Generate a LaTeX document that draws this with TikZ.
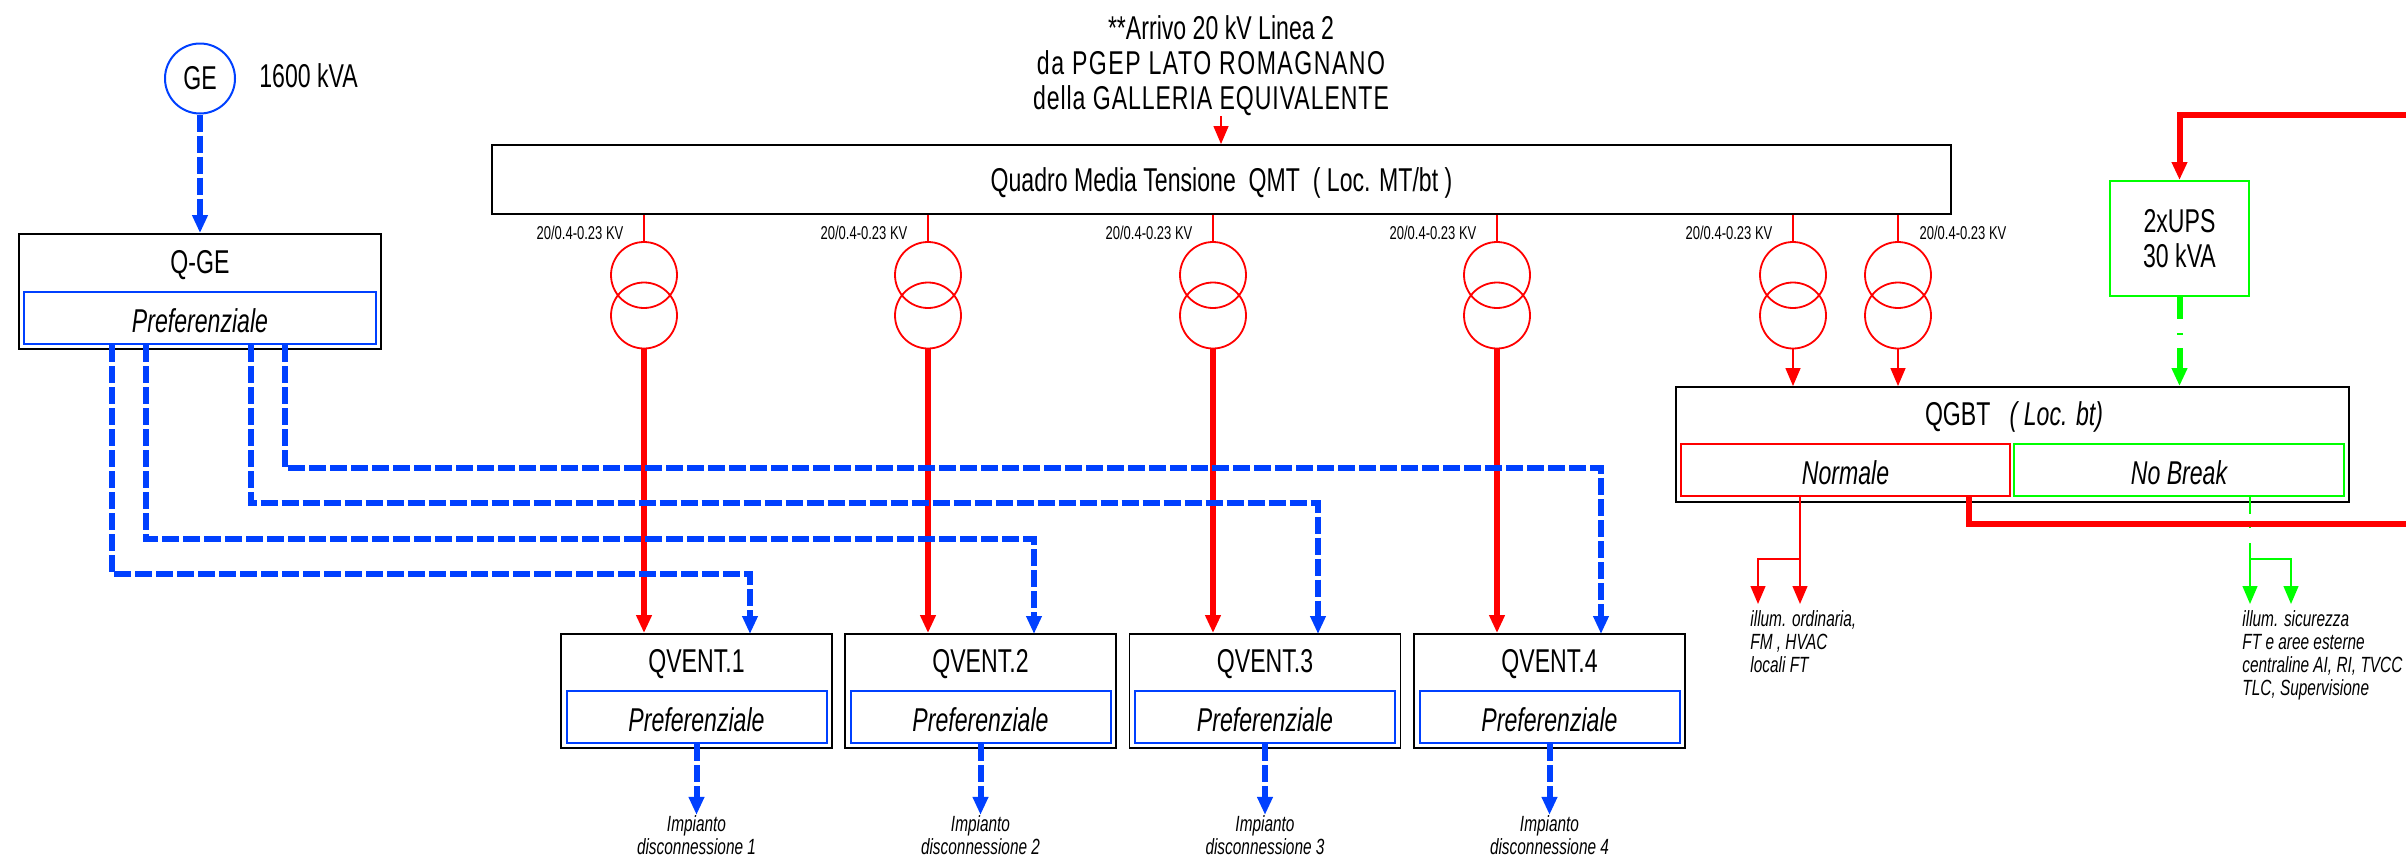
\documentclass[tikz,border=0pt]{standalone}
\usepackage{fontspec}
\setmainfont[FakeStretch=0.7]{Liberation Sans}
\usetikzlibrary{positioning,arrows.meta}
\definecolor{prefblue}{RGB}{0,64,255}
\definecolor{upsgreen}{RGB}{0,255,0}
\tikzset{
bigtext/.style={
  font=\fontsize{16.5}{17.5}\selectfont,
  inner sep=0pt,
  align=center
  },
smalltext/.style={
  font=\fontsize{11}{11.6}\selectfont\itshape,
  inner sep=0pt,
  align=left
  },
kvtext/.style={
  font=\fontsize{9.3}{10}\selectfont,
  inner sep=0pt
  },
panel/.style={
  draw=black,
  line width=0.9pt,
  inner sep=0pt
  },
ventbox/.style={
  panel,
  minimum width=135.5pt,
  minimum height=57pt
  },
sect/.style={
  draw,
  line width=1pt,
  inner sep=0pt,
  minimum height=26pt,
  text height=14.8pt,
  text depth=0pt,
  font=\fontsize{16.5}{17.5}\selectfont\itshape
  },
prefbox/.style={
  sect,
  draw=prefblue,
  minimum width=130pt
  },
xfmr/.style={
  circle,
  draw=red,
  line width=0.9pt,
  minimum size=33pt,
  inner sep=0pt
  },
redthin/.style={
  draw=red,
  line width=1pt
  },
redthick/.style={
  draw=red,
  line width=3pt
  },
bluebus/.style={
  draw=prefblue,
  line width=3pt,
  dash pattern=on 8.5pt off 2pt
  },
greenthin/.style={
  draw=upsgreen,
  line width=1pt
  },
greenthick/.style={
  draw=upsgreen,
  line width=3pt
  }
}

\begin{document}
\begin{tikzpicture}[x=0.5pt, y=-0.5pt,
  >={Triangle[length=9pt,width=7.4pt]}]
\useasboundingbox (0,0) rectangle (2406,857);

\node[circle, draw=prefblue, line width=1pt, minimum size=35pt, inner sep=0pt,
  font=\fontsize{16.5}{17.5}\selectfont]
  (ge) at (200,78.5) {GE};
\node[bigtext, right=11.5pt of ge, yshift=1.2pt] (gekva) {1600 kVA};

\node[panel, minimum width=181pt, minimum height=57.5pt] (qge) at (200,291.5) {};
\node[bigtext] (qgename) at (200,265) {Q-GE};
\node[prefbox, minimum width=176pt] (qgepref) at (200,318) {Preferenziale};

\node[bigtext] (arrivo) at (1221,66)
  {**Arrivo 20 kV Linea 2\\
   \addfontfeature{LetterSpace=4.5}da PGEP LATO ROMAGNANO\kern10pt\\
   \addfontfeature{LetterSpace=2.8}della GALLERIA EQUIVALENTE\kern10pt};
\node[panel, minimum width=729.5pt, minimum height=34.5pt, bigtext, inner sep=0pt,
  text height=11.8pt, text depth=0pt]
  (qmt) at (1221.5,179.5) {Quadro Media Tensione\ \ QMT\ \ ( Loc. MT/bt )};

\node[xfmr] (t1a) at (644,275) {};
\node[xfmr] (t1b) at (644,315.5) {};
\node[xfmr] (t2a) at (928,275) {};
\node[xfmr] (t2b) at (928,315.5) {};
\node[xfmr] (t3a) at (1213,275) {};
\node[xfmr] (t3b) at (1213,315.5) {};
\node[xfmr] (t4a) at (1497,275) {};
\node[xfmr] (t4b) at (1497,315.5) {};
\node[xfmr] (t5a) at (1793,275) {};
\node[xfmr] (t5b) at (1793,315.5) {};
\node[xfmr] (t6a) at (1898,275) {};
\node[xfmr] (t6b) at (1898,315.5) {};

\node[kvtext] (kv1) at (580,233) {20/0.4-0.23 KV};
\node[kvtext] (kv2) at (864,233) {20/0.4-0.23 KV};
\node[kvtext] (kv3) at (1149,233) {20/0.4-0.23 KV};
\node[kvtext] (kv4) at (1433,233) {20/0.4-0.23 KV};
\node[kvtext] (kv5) at (1729,233) {20/0.4-0.23 KV};
\node[kvtext] (kv6) at (1963,233) {20/0.4-0.23 KV};

\node[ventbox] (qvent1) at (696.5,691) {};
\node[ventbox] (qvent2) at (980.5,691) {};
\node[ventbox] (qvent3) at (1265,691) {};
\node[ventbox] (qvent4) at (1549.5,691) {};
\node[bigtext] (qvent1name) at (696.5,664) {QVENT.1};
\node[bigtext] (qvent2name) at (980.5,664) {QVENT.2};
\node[bigtext] (qvent3name) at (1265,664) {QVENT.3};
\node[bigtext] (qvent4name) at (1549.5,664) {QVENT.4};
\node[prefbox] (qvent1pref) at (696.5,717) {Preferenziale};
\node[prefbox] (qvent2pref) at (980.5,717) {Preferenziale};
\node[prefbox] (qvent3pref) at (1265,717) {Preferenziale};
\node[prefbox] (qvent4pref) at (1549.5,717) {Preferenziale};

\node[smalltext, align=center] (disc1) at (696.5,835) {Impianto\\disconnessione 1};
\node[smalltext, align=center] (disc2) at (980.5,835) {Impianto\\disconnessione 2};
\node[smalltext, align=center] (disc3) at (1265,835) {Impianto\\disconnessione 3};
\node[smalltext, align=center] (disc4) at (1549.5,835) {Impianto\\disconnessione 4};

\node[panel, minimum width=336.5pt, minimum height=57.5pt] (qgbt) at (2012.5,444.5) {};
\node[bigtext] (qgbtname) at (2014,417) {QGBT\ \ \ \textit{( Loc. bt)}};
\node[sect, draw=red, minimum width=164.5pt] (normale) at (1845.5,470) {Normale};
\node[sect, draw=upsgreen, minimum width=165pt] (nobreak) at (2179,470) {No Break};
\node[panel, draw=upsgreen, line width=1pt, minimum width=69.5pt, minimum height=57.5pt,
  bigtext] (ups) at (2179.5,238.5) {2xUPS\\30 kVA};

\node[smalltext, anchor=north west] (ordinaria) at (1750,610)
  {illum. ordinaria,\\FM , HVAC\\locali FT};
\node[smalltext, anchor=north west] (sicurezza) at (2242,610)
  {illum. sicurezza\\FT e aree esterne\\centraline AI, RI, TVCC\\TLC, Supervisione};

\coordinate (feed) at (1221,116);
\coordinate (busA) at (112,574);
\coordinate (busB) at (146,539);
\coordinate (busC) at (250.5,503);
\coordinate (busD) at (285,468);
\coordinate (inA) at (750,634);
\coordinate (inB) at (1034,634);
\coordinate (inC) at (1318,634);
\coordinate (inD) at (1601,634);
\coordinate (loadRa) at (1800,604);
\coordinate (loadRb) at (1758,604);
\coordinate (forkR) at (1800,559);
\coordinate (loadGa) at (2250,604);
\coordinate (loadGb) at (2291,604);
\coordinate (forkG) at (2250,559);
\coordinate (upsfeedend) at (2406,115);
\coordinate (upsfeedcorner) at (2179.5,115);
\coordinate (outcorner) at (1969,524);
\coordinate (outend) at (2406,524);

\draw[redthin,->]
  (feed) -- (qmt.north -| feed);
\draw[redthin] (qmt.south -| t1a) -- (t1a.north);
\draw[redthin] (qmt.south -| t2a) -- (t2a.north);
\draw[redthin] (qmt.south -| t3a) -- (t3a.north);
\draw[redthin] (qmt.south -| t4a) -- (t4a.north);
\draw[redthin] (qmt.south -| t5a) -- (t5a.north);
\draw[redthin] (qmt.south -| t6a) -- (t6a.north);

\draw[redthick,->]
  (t1b.south) -- (qvent1.north -| t1b);
\draw[redthick,->]
  (t2b.south) -- (qvent2.north -| t2b);
\draw[redthick,->]
  (t3b.south) -- (qvent3.north -| t3b);
\draw[redthick,->]
  (t4b.south) -- (qvent4.north -| t4b);
\draw[redthin,->]
  (t5b.south) -- (qgbt.north -| t5b);
\draw[redthin,->]
  (t6b.south) -- (qgbt.north -| t6b);

\draw[bluebus,->]
  (ge.south) -- (qge.north);
\draw[bluebus,->]
  (qgepref.south -| busA) -- (busA) -| (inA);
\draw[bluebus,->]
  (qgepref.south -| busB) -- (busB) -| (inB);
\draw[bluebus,->]
  (qgepref.south -| busC) -- (busC) -| (inC);
\draw[bluebus,->]
  (qgepref.south -| busD) -- (busD) -| (inD);

\draw[bluebus,->]
  (qvent1pref.south) -- (disc1.north);
\draw[bluebus,->]
  (qvent2pref.south) -- (disc2.north);
\draw[bluebus,->]
  (qvent3pref.south) -- (disc3.north);
\draw[bluebus,->]
  (qvent4pref.south) -- (disc4.north);

\draw[greenthick,->, dash pattern=on 11pt off 7pt on 1pt off 6.5pt on 40pt]
  (ups.south) -- (qgbt.north -| ups);

\draw[redthin,->]
  (normale.south -| loadRa) -- (loadRa);
\draw[redthin,->]
  (forkR) -| (loadRb);

\draw[greenthin,->, dash pattern=on 8.5pt off 5pt on 2pt off 7.5pt on 40pt]
  (nobreak.south -| loadGa) -- (loadGa);
\draw[greenthin,->]
  (forkG) -| (loadGb);

\draw[redthick,->]
  (upsfeedend) -- (upsfeedcorner) -- (ups.north);
\draw[redthick]
  (normale.south -| outcorner) -- (outcorner) -- (outend);
\end{tikzpicture}
\end{document}
